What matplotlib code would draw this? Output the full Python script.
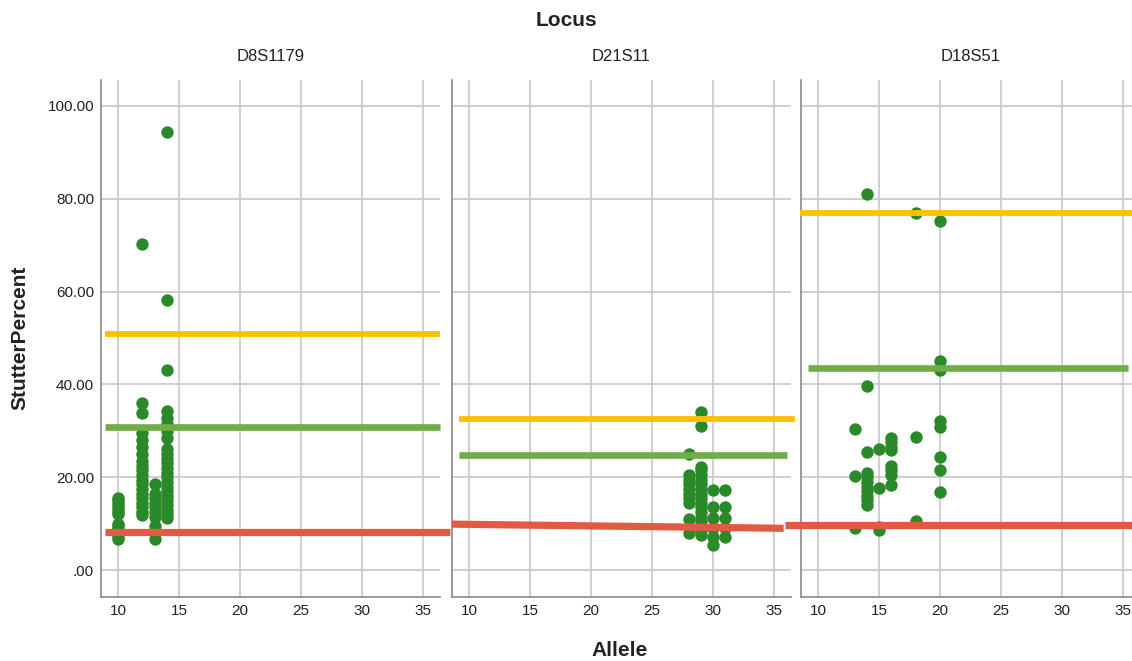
import matplotlib
matplotlib.use("Agg")
import matplotlib.pyplot as plt

plt.rcParams['font.family'] = ['Liberation Sans', 'DejaVu Sans']

loci = ['D8S1179', 'D21S11', 'D18S51']

# allele / stutter percent, one pair of lists per locus
d8s1179_allele = [10] * 13 + [12] * 20 + [13] * 10 + [14] * 24
d8s1179_stutter = [15.5, 15.0, 14.4, 13.8, 13.2, 12.6, 12.0, 10.0, 9.4, 8.8, 7.8, 7.2, 6.6,
                   70.3, 36.0, 33.8, 29.5, 28.0, 26.5, 25.0, 23.5, 22.5, 21.5, 20.5, 19.5,
                   18.5, 17.5, 16.5, 15.5, 14.5, 13.5, 12.5, 11.8,
                   18.5, 16.5, 15.5, 14.5, 13.5, 12.5, 11.5, 9.5, 8.0, 6.8,
                   94.3, 58.2, 43.2, 34.3, 32.8, 31.5, 30.0, 28.5, 26.0, 25.0, 24.0, 23.0,
                   22.0, 21.0, 20.0, 19.0, 18.0, 17.0, 16.0, 15.0, 14.0, 13.0, 12.0, 11.3]

d21s11_allele = [28] * 10 + [29] * 18 + [30] * 6 + [31] * 5
d21s11_stutter = [25.0, 20.5, 19.5, 18.5, 17.5, 16.5, 15.5, 14.5, 11.0, 8.0,
                  34.0, 31.0, 22.3, 21.5, 20.5, 19.5, 18.5, 17.5, 16.5, 15.5, 14.5,
                  13.5, 12.5, 11.5, 10.5, 9.5, 8.5, 7.5,
                  17.3, 13.6, 11.2, 9.1, 7.1, 5.4,
                  17.3, 13.6, 11.2, 9.1, 7.1]

d18s51_allele = [13] * 3 + [14] * 11 + [15] * 4 + [16] * 8 + [18] * 3 + [20] * 8
d18s51_stutter = [30.4, 20.3, 9.0,
                  81.0, 39.7, 25.4, 21.0, 20.0, 19.0, 18.0, 17.0, 16.0, 15.0, 14.0,
                  26.1, 17.7, 9.3, 8.6,
                  28.5, 27.5, 26.5, 25.8, 22.5, 21.5, 20.5, 18.3,
                  76.9, 28.6, 10.6,
                  75.2, 45.0, 43.1, 32.2, 30.8, 24.4, 21.6, 16.8]

# reference lines per locus
upper_line = [50.9, 32.5, 76.9]
mid_line = [30.8, 24.8, 43.5]
lower_start = [8.2, 9.9, 9.7]
lower_end = [8.2, 9.0, 9.7]

x_ticks = [10, 15, 20, 25, 30, 35]
y_ticks = [0, 20, 40, 60, 80, 100]
y_tick_labels = ['.00', '20.00', '40.00', '60.00', '80.00', '100.00']

alleles = [d8s1179_allele, d21s11_allele, d18s51_allele]
stutters = [d8s1179_stutter, d21s11_stutter, d18s51_stutter]

# line extents (in allele units) for each panel: upper, mid, lower
upper_span = [(8.9, 36.4), (9.2, 36.7), (8.5, 37.0)]
mid_span = [(8.9, 36.4), (9.2, 36.1), (9.2, 35.4)]
lower_span = [(8.9, 37.2), (8.6, 35.8), (7.3, 37.0)]

fig = plt.figure(figsize=(11.32, 6.61), dpi=100)
lefts = [101, 452, 801]
grid_col = '#cbcbcb'

for i, locus in enumerate(loci):
    ax = fig.add_axes([lefts[i] / 1132, 64 / 661, 339 / 1132, 517 / 661])
    ax.set_xlim(8.6, 36.4)
    ax.set_ylim(-5.8, 105.6)
    ax.set_xticks(x_ticks)
    ax.set_yticks(y_ticks)
    ax.grid(True, color=grid_col, linewidth=1.3)
    ax.set_axisbelow(True)
    ax.tick_params(length=0, labelsize=11, colors='#222222', pad=5)
    if i == 0:
        ax.set_yticklabels(y_tick_labels)
    else:
        ax.set_yticklabels([])
    for s in ['top', 'right']:
        ax.spines[s].set_visible(False)
    for s in ['left', 'bottom']:
        ax.spines[s].set_color('#8a8a8a')
        ax.spines[s].set_linewidth(1.2)
    ax.set_title(locus, fontsize=12, color='#222222', pad=14)

    ax.scatter(alleles[i], stutters[i], s=80, color='#2a8a2a', zorder=3,
               linewidths=0)
    ax.plot(upper_span[i], [upper_line[i]] * 2, color='#FFC000', lw=4.2,
            solid_capstyle='butt', zorder=4, clip_on=False)
    ax.plot(mid_span[i], [mid_line[i]] * 2, color='#70AD47', lw=4.8,
            solid_capstyle='butt', zorder=4, clip_on=False)
    ax.plot(lower_span[i], [lower_start[i], lower_end[i]], color='#E05A44', lw=5.2,
            solid_capstyle='butt', zorder=4, clip_on=False)

fig.text(566 / 1132, 1 - 20 / 661, 'Locus', ha='center', va='center',
         fontsize=15, fontweight='bold', color='#222222')
fig.text(620 / 1132, 1 - 650 / 661, 'Allele', ha='center', va='center',
         fontsize=15, fontweight='bold', color='#222222')
fig.text(20 / 1132, 1 - 338 / 661, 'StutterPercent', ha='center', va='center',
         rotation=90, fontsize=15, fontweight='bold', color='#222222')

fig.savefig('out.png', dpi=100)
